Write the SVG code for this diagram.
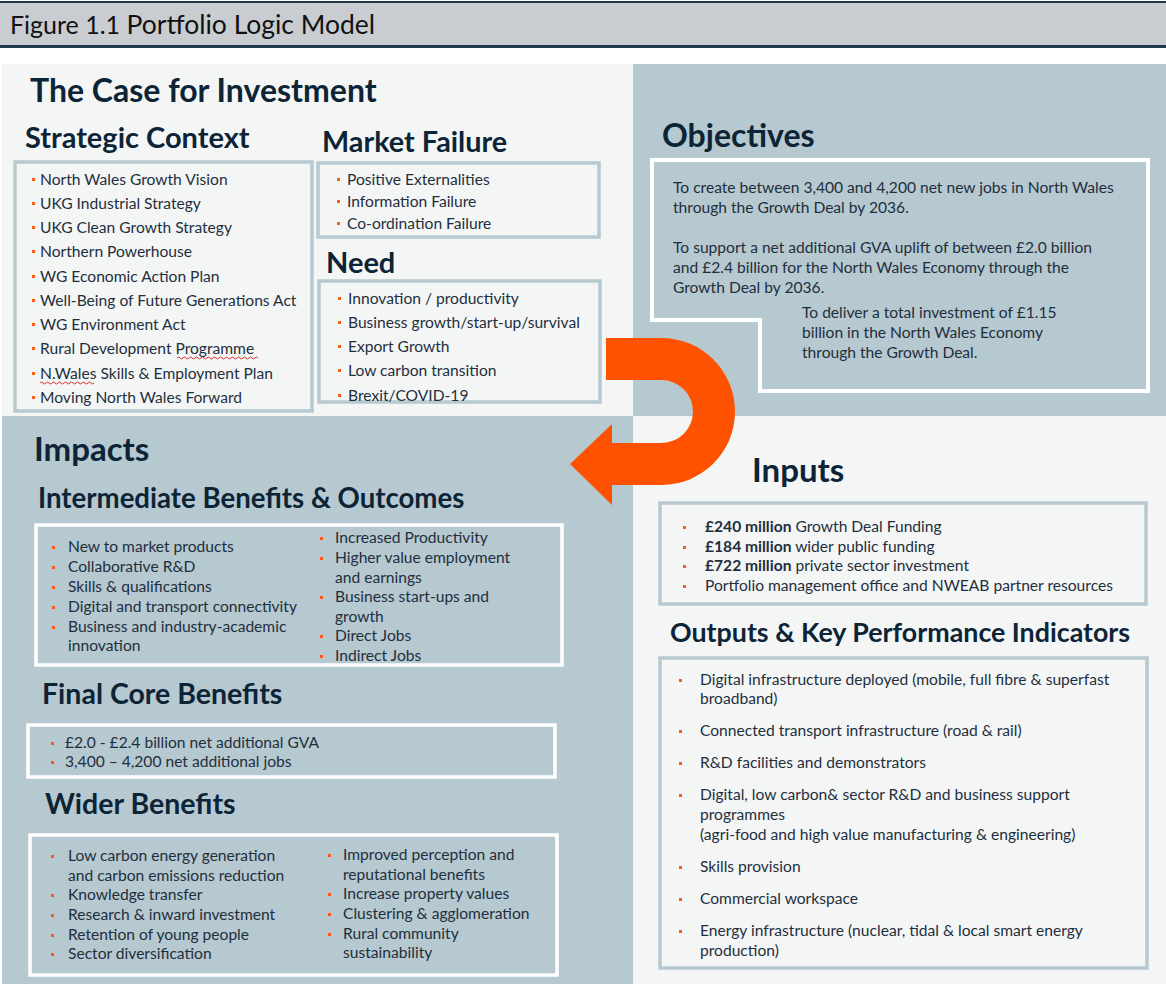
<svg xmlns="http://www.w3.org/2000/svg" width="1166" height="990" viewBox="0 0 1166 990">
<style>
.t{font-family:Lato,"Liberation Sans",sans-serif;font-weight:700;fill:#0c2436}
.b{font-family:Lato,"Liberation Sans",sans-serif;font-size:15.6px;fill:#1f2f3d}
.bb{font-weight:700}
.gbox{fill:#f4f6f6;stroke:#b6c8d0;stroke-width:3.5}
.wbox{fill:#b6c8d0;stroke:#ffffff;stroke-width:3.5}
.dot{fill:#ff5a14}
.sq{fill:none;stroke:#e0302a;stroke-width:1}
</style>
<rect x="0" y="0" width="1166" height="990" fill="#ffffff"/>
<!-- header -->
<g id="header">
<rect x="0" y="3" width="1166" height="44" fill="#c9cdd1"/>
<rect x="0" y="1" width="1166" height="2" fill="#1c3a4a"/>
<rect x="0" y="45" width="1166" height="3" fill="#1c3a4a"/>
<text x="10" y="34" font-family="Lato,'Liberation Sans',sans-serif" font-size="25" fill="#111">Figure 1.1 <tspan font-size="26.5">Portfolio Logic Model</tspan></text>
</g>
<!-- quadrants -->
<g id="background">
<rect x="2" y="64" width="631" height="352" fill="#f4f6f6"/>
<rect x="633" y="64" width="533" height="352" fill="#b6c8d0"/>
<rect x="2" y="416" width="631" height="568" fill="#b6c8d0"/>
<rect x="633" y="416" width="533" height="568" fill="#f4f6f6"/>
</g>
<g id="case-title"><text class="t" font-size="32" x="30" y="102">The Case for Investment</text></g>
<!-- Strategic context -->
<g id="strategic-context">
<text class="t" font-size="29" x="25" y="148">Strategic Context</text>
<rect class="gbox" x="15" y="162" width="297" height="249"/>
<g class="b" font-size="15.4">
<text x="40" y="185">North Wales Growth Vision</text>
<text x="40" y="209">UKG Industrial Strategy</text>
<text x="40" y="233">UKG Clean Growth Strategy</text>
<text x="40" y="257">Northern Powerhouse</text>
<text x="40" y="282">WG Economic Action Plan</text>
<text x="40" y="306">Well-Being of Future Generations Act</text>
<text x="40" y="330">WG Environment Act</text>
<text x="40" y="354">Rural Development Programme</text>
<text x="40" y="379">N.Wales Skills &amp; Employment Plan</text>
<text x="40" y="403">Moving North Wales Forward</text>
</g>
<g class="dot">
<rect x="32" y="178" width="3" height="3"/><rect x="32" y="202" width="3" height="3"/><rect x="32" y="226" width="3" height="3"/><rect x="32" y="250" width="3" height="3"/><rect x="32" y="275" width="3" height="3"/><rect x="32" y="299" width="3" height="3"/><rect x="32" y="323" width="3" height="3"/><rect x="32" y="347" width="3" height="3"/><rect x="32" y="372" width="3" height="3"/><rect x="32" y="396" width="3" height="3"/>
</g>
<path class="sq" d="M177,358 q1.5,-2 3,0 t3,0 t3,0 t3,0 t3,0 t3,0 t3,0 t3,0 t3,0 t3,0 t3,0 t3,0 t3,0 t3,0 t3,0 t3,0 t3,0 t3,0 t3,0 t3,0 t3,0 t3,0 t3,0 t3,0 t3,0 t3,0 t3,0"/>
<path class="sq" d="M40,383 q1.5,-2 3,0 t3,0 t3,0 t3,0 t3,0 t3,0 t3,0 t3,0 t3,0 t3,0 t3,0 t3,0 t3,0 t3,0 t3,0 t3,0 t3,0 t3,0"/>
</g>
<!-- Market failure -->
<g id="market-failure">
<text class="t" font-size="28.8" x="322" y="152">Market Failure</text>
<rect class="gbox" x="318" y="163" width="281" height="74"/>
<g class="b">
<text x="347" y="185">Positive Externalities</text>
<text x="347" y="207">Information Failure</text>
<text x="347" y="229">Co-ordination Failure</text>
</g>
<g class="dot"><rect x="337" y="178" width="3" height="3"/><rect x="337" y="200" width="3" height="3"/><rect x="337" y="222" width="3" height="3"/></g>
</g>
<!-- Need -->
<g id="need">
<text class="t" font-size="29" x="326" y="273">Need</text>
<rect class="gbox" x="319" y="281" width="281" height="121"/>
<g class="b">
<text x="348" y="304">Innovation / productivity</text>
<text x="348" y="328">Business growth/start-up/survival</text>
<text x="348" y="352">Export Growth</text>
<text x="348" y="376">Low carbon transition</text>
<text x="348" y="401">Brexit/COVID-19</text>
</g>
<g class="dot"><rect x="338" y="297" width="3" height="3"/><rect x="338" y="321" width="3" height="3"/><rect x="338" y="345" width="3" height="3"/><rect x="338" y="369" width="3" height="3"/><rect x="338" y="394" width="3" height="3"/></g>
</g>
<!-- Objectives -->
<g id="objectives">
<text class="t" font-size="32" x="662" y="147">Objectives</text>
<path d="M652,160 L1148,160 L1148,391 L760,391 L760,320 L652,320 Z" fill="#b6c8d0" stroke="#ffffff" stroke-width="4"/>
<g class="b" font-size="15.3">
<text x="673" y="193">To create between 3,400 and 4,200 net new jobs in North Wales</text>
<text x="673" y="213">through the Growth Deal by 2036.</text>
<text x="673" y="253">To support a net additional GVA uplift of between £2.0 billion</text>
<text x="673" y="273">and £2.4 billion for the North Wales Economy through the</text>
<text x="673" y="293">Growth Deal by 2036.</text>
<text x="802" y="318">To deliver a total investment of £1.15</text>
<text x="802" y="338">billion in the North Wales Economy</text>
<text x="802" y="358">through the Growth Deal.</text>
</g>
</g>
<!-- connector arrow -->
<g id="connectors">
<path d="M606,338 L661.5,338 A73.5,73.5 0 0 1 661.5,485 L612,485 L612,505 L570,464 L612,424 L612,443 L661.5,443 A31.5,31.5 0 0 0 661.5,380 L606,380 Z" fill="#ff5200"/>
</g>
<!-- Impacts -->
<g id="impacts"><text class="t" font-size="33" x="34" y="461">Impacts</text></g>
<g id="intermediate">
<text class="t" font-size="27.6" x="38" y="508">Intermediate Benefits &amp; Outcomes</text>
<rect class="wbox" x="36" y="525" width="526" height="140"/>
<g class="b">
<text x="68" y="552">New to market products</text>
<text x="68" y="572">Collaborative R&amp;D</text>
<text x="68" y="592">Skills &amp; qualifications</text>
<text x="68" y="612">Digital and transport connectivity</text>
<text x="68" y="632">Business and industry-academic</text>
<text x="68" y="651">innovation</text>
<text x="335" y="543">Increased Productivity</text>
<text x="335" y="563">Higher value employment</text>
<text x="335" y="583">and earnings</text>
<text x="335" y="602">Business start-ups and</text>
<text x="335" y="622">growth</text>
<text x="335" y="641">Direct Jobs</text>
<text x="335" y="661">Indirect Jobs</text>
</g>
<g class="dot">
<rect x="52" y="546" width="3" height="3"/><rect x="52" y="566" width="3" height="3"/><rect x="52" y="586" width="3" height="3"/><rect x="52" y="606" width="3" height="3"/><rect x="52" y="626" width="3" height="3"/>
<rect x="320" y="537" width="3" height="3"/><rect x="320" y="557" width="3" height="3"/><rect x="320" y="596" width="3" height="3"/><rect x="320" y="635" width="3" height="3"/><rect x="320" y="655" width="3" height="3"/>
</g>
</g>
<g id="final-core">
<text class="t" font-size="28.5" x="42" y="704">Final Core Benefits</text>
<rect class="wbox" x="28" y="725" width="527" height="52"/>
<g class="b" font-size="14.9">
<text x="65" y="748">£2.0 - £2.4 billion net additional GVA</text>
<text x="65" y="767">3,400 – 4,200 net additional jobs</text>
</g>
<g class="dot"><rect x="51" y="742" width="3" height="3"/><rect x="51" y="761" width="3" height="3"/></g>
</g>
<g id="wider">
<text class="t" font-size="28.5" x="45" y="814">Wider Benefits</text>
<rect class="wbox" x="30" y="835" width="527" height="140"/>
<g class="b" font-size="15.8">
<text x="68" y="861">Low carbon energy generation</text>
<text x="68" y="881">and carbon emissions reduction</text>
<text x="68" y="900">Knowledge transfer</text>
<text x="68" y="920">Research &amp; inward investment</text>
<text x="68" y="940">Retention of  young people</text>
<text x="68" y="959">Sector diversification</text>
<text x="343" y="860">Improved perception and</text>
<text x="343" y="880">reputational  benefits</text>
<text x="343" y="899">Increase property values</text>
<text x="343" y="919">Clustering &amp; agglomeration</text>
<text x="343" y="939">Rural community</text>
<text x="343" y="958">sustainability</text>
</g>
<g class="dot">
<rect x="51" y="855" width="3" height="3"/><rect x="51" y="894" width="3" height="3"/><rect x="51" y="914" width="3" height="3"/><rect x="51" y="934" width="3" height="3"/><rect x="51" y="953" width="3" height="3"/>
<rect x="328" y="854" width="3" height="3"/><rect x="328" y="893" width="3" height="3"/><rect x="328" y="913" width="3" height="3"/><rect x="328" y="933" width="3" height="3"/>
</g>
</g>
<!-- Inputs -->
<g id="inputs">
<text class="t" font-size="33" x="752" y="482">Inputs</text>
<rect class="gbox" x="660" y="503" width="486" height="101"/>
<g class="b">
<text x="705" y="532"><tspan class="bb">£240 million</tspan> Growth Deal Funding</text>
<text x="705" y="552"><tspan class="bb">£184 million</tspan> wider public funding</text>
<text x="705" y="571"><tspan class="bb">£722 million</tspan> private sector investment</text>
<text x="705" y="591">Portfolio management office and NWEAB partner resources</text>
</g>
<g class="dot"><rect x="683" y="526" width="3" height="3"/><rect x="683" y="546" width="3" height="3"/><rect x="683" y="565" width="3" height="3"/><rect x="683" y="585" width="3" height="3"/></g>
</g>
<!-- Outputs -->
<g id="outputs">
<text class="t" font-size="26.8" x="670" y="642">Outputs &amp; Key Performance Indicators</text>
<rect class="gbox" x="660" y="658" width="487" height="310"/>
<g class="b">
<text x="700" y="685">Digital infrastructure deployed (mobile, full fibre &amp; superfast</text>
<text x="700" y="704">broadband)</text>
<text x="700" y="736">Connected transport infrastructure (road &amp; rail)</text>
<text x="700" y="768">R&amp;D facilities and demonstrators</text>
<text x="700" y="800">Digital, low carbon&amp; sector R&amp;D and business support</text>
<text x="700" y="820">programmes</text>
<text x="700" y="840">(agri-food and high value manufacturing &amp; engineering)</text>
<text x="700" y="872">Skills provision</text>
<text x="700" y="904">Commercial workspace</text>
<text x="700" y="936">Energy infrastructure (nuclear, tidal &amp; local smart energy</text>
<text x="700" y="956">production)</text>
</g>
<g class="dot">
<rect x="679" y="679" width="3" height="3"/><rect x="679" y="730" width="3" height="3"/><rect x="679" y="762" width="3" height="3"/><rect x="679" y="794" width="3" height="3"/><rect x="679" y="866" width="3" height="3"/><rect x="679" y="898" width="3" height="3"/><rect x="679" y="930" width="3" height="3"/>
</g>
</g>
</svg>
